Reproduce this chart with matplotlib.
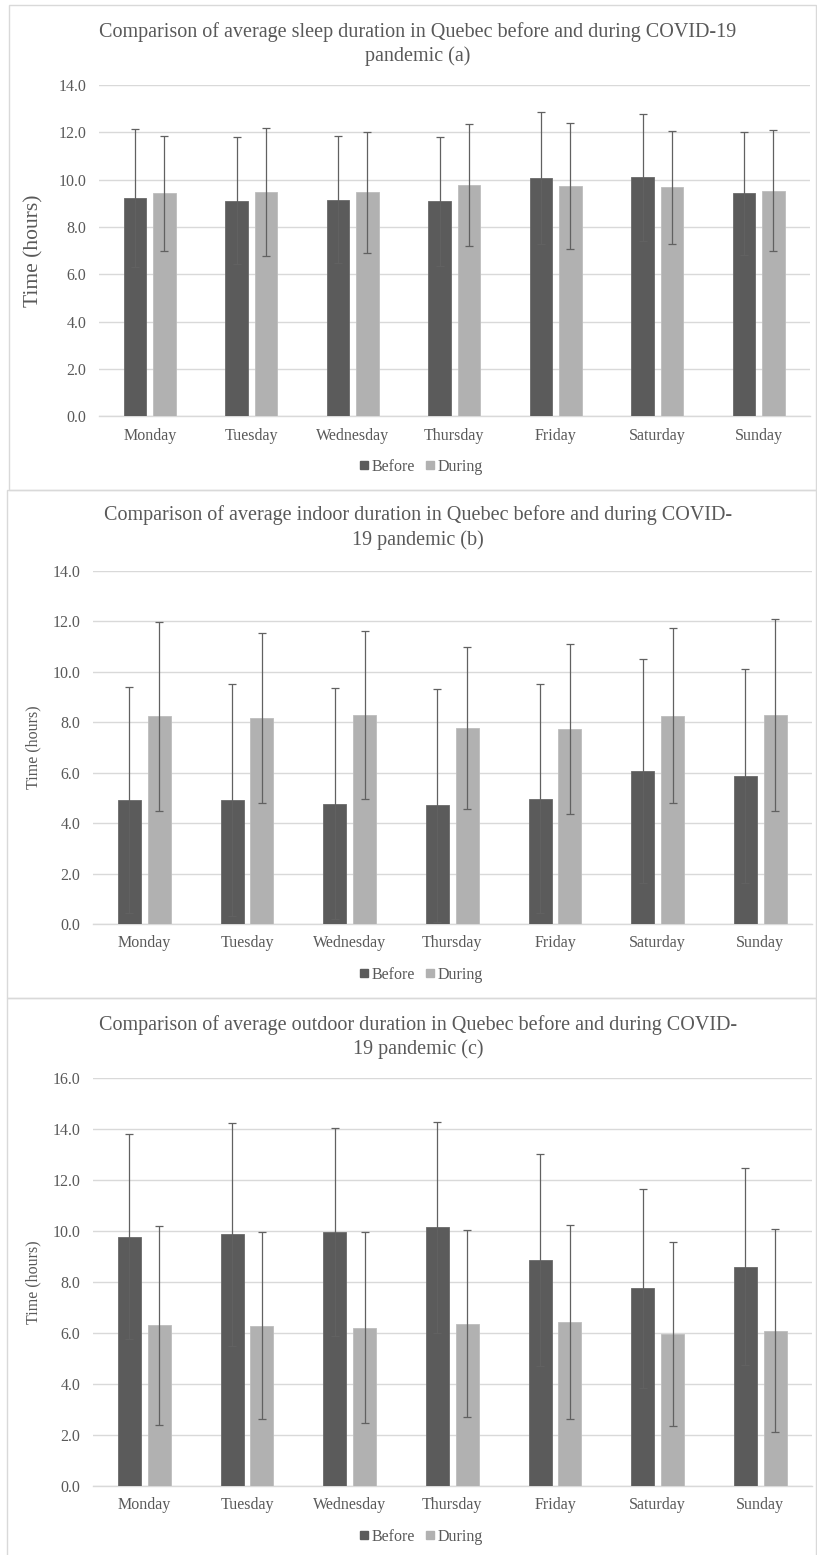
import matplotlib
matplotlib.use("Agg")
import matplotlib.pyplot as plt
from matplotlib.patches import Rectangle
from matplotlib.lines import Line2D
import numpy as np

# ---- data -------------------------------------------------------------
days = ["Monday", "Tuesday", "Wednesday", "Thursday", "Friday", "Saturday", "Sunday"]

sleep_before = [9.22, 9.12, 9.16, 9.08, 10.09, 10.10, 9.43]
sleep_before_sd = [2.91, 2.70, 2.69, 2.73, 2.79, 2.68, 2.60]
sleep_during = [9.43, 9.47, 9.47, 9.78, 9.75, 9.68, 9.54]
sleep_during_sd = [2.42, 2.70, 2.55, 2.58, 2.66, 2.39, 2.56]

indoor_before = [4.92, 4.92, 4.77, 4.70, 4.97, 6.06, 5.87]
indoor_before_sd = [4.47, 4.60, 4.58, 4.61, 4.55, 4.44, 4.24]
indoor_during = [8.23, 8.16, 8.27, 7.77, 7.73, 8.25, 8.28]
indoor_during_sd = [3.74, 3.36, 3.33, 3.21, 3.37, 3.46, 3.80]

outdoor_before = [9.78, 9.87, 9.97, 10.14, 8.85, 7.75, 8.60]
outdoor_before_sd = [4.01, 4.37, 4.07, 4.15, 4.16, 3.90, 3.87]
outdoor_during = [6.30, 6.29, 6.21, 6.37, 6.44, 5.97, 6.09]
outdoor_during_sd = [3.91, 3.66, 3.74, 3.67, 3.81, 3.61, 3.99]

series_labels = ["Before", "During"]

titles = [
    "Comparison of average sleep duration in Quebec before and during COVID-19\npandemic (a)",
    "Comparison of average indoor duration in Quebec before and during COVID-\n19 pandemic (b)",
    "Comparison of average outdoor duration in Quebec before and during COVID-\n19 pandemic (c)",
]
y_maxes = [14, 14, 16]

# ---- styling ----------------------------------------------------------
W, H = 817, 1555
DPI = 100
TEXT = "#595959"
C_BEFORE = "#5b5b5b"
C_DURING = "#b1b1b1"
GRID = "#d9d9d9"
ERR = "#616161"

plt.rcParams["font.family"] = ["Liberation Serif", "DejaVu Serif"]

fig = plt.figure(figsize=(W / DPI, H / DPI), dpi=DPI)
fig.patch.set_facecolor("white")


def fx(px):
    return px / W


def fy(py):
    return 1 - py / H


def add_frame(x0, y0, x1, y1):
    fig.patches.append(Rectangle((fx(x0), fy(y1)), fx(x1 - x0), (y1 - y0) / H,
                                 transform=fig.transFigure, fill=False,
                                 edgecolor="#d9d9d9", linewidth=1.0))


# panel layout in pixels: frame, plot area, title centre lines, legend y,
# label offset and font sizes
panels = [
    dict(frame=(9, 5, 816, 490), plot=(99, 85, 809.5, 416.5),
         title_y=(32, 56), legend_y=467, ylabel_x=43.5, ylabel_fs=15.5),
    dict(frame=(7, 490, 816, 998), plot=(93, 570.7, 811.7, 924),
         title_y=(515, 540), legend_y=975, ylabel_x=41, ylabel_fs=11.5),
    dict(frame=(7, 998, 816, 1560), plot=(93, 1078, 811.7, 1486),
         title_y=(1025, 1049), legend_y=1537, ylabel_x=41, ylabel_fs=11.5),
]

data = [
    (sleep_before, sleep_before_sd, sleep_during, sleep_during_sd),
    (indoor_before, indoor_before_sd, indoor_during, indoor_during_sd),
    (outdoor_before, outdoor_before_sd, outdoor_during, outdoor_during_sd),
]

x = np.arange(len(days))
bw = 0.225
off = 0.145

for p, (b, bsd, d, dsd), title, ymax in zip(panels, data, titles, y_maxes):
    add_frame(*p["frame"])
    x0, y0, x1, y1 = p["plot"]
    ax = fig.add_axes([fx(x0), fy(y1), fx(x1 - x0), (y1 - y0) / H])
    ax.set_facecolor("none")

    ax.bar(x - off, b, bw, color=C_BEFORE, edgecolor="#6a6a6a", linewidth=0.6,
           yerr=bsd, error_kw=dict(ecolor=ERR, elinewidth=0.9, capsize=3.2, capthick=0.9),
           zorder=3)
    ax.bar(x + off, d, bw, color=C_DURING, edgecolor="#bdbdbd", linewidth=0.6,
           yerr=dsd, error_kw=dict(ecolor=ERR, elinewidth=0.9, capsize=3.2, capthick=0.9),
           zorder=3)

    ax.set_xlim(-0.5, len(days) - 0.5)
    ax.set_ylim(0, ymax)
    ax.set_yticks(np.arange(0, ymax + 0.1, 2))
    ax.set_yticklabels([f"{v:.1f}" for v in np.arange(0, ymax + 0.1, 2)])
    ax.set_xticks(x)
    ax.set_xticklabels(days)
    ax.tick_params(axis="both", length=0, labelsize=11.5, colors=TEXT)
    ax.tick_params(axis="y", pad=9)
    ax.tick_params(axis="x", pad=8)
    ax.yaxis.grid(True, color=GRID, linewidth=1.0, zorder=0)
    ax.set_axisbelow(True)
    for s in ["top", "right", "left"]:
        ax.spines[s].set_visible(False)
    ax.spines["bottom"].set_color(GRID)
    ax.spines["bottom"].set_linewidth(1.0)

    ax.set_ylabel("Time (hours)", fontsize=p["ylabel_fs"], color=TEXT)
    ax.yaxis.set_label_coords((p["ylabel_x"] - x0) / (x1 - x0), 0.5)

    # two-line title
    l1, l2 = title.split("\n")
    fig.text(fx(418), fy(p["title_y"][0]), l1, ha="center", va="center",
             fontsize=14.5, color=TEXT)
    fig.text(fx(418), fy(p["title_y"][1]), l2, ha="center", va="center",
             fontsize=14.5, color=TEXT)

    handles = [Line2D([], [], linestyle="none", marker="s", markersize=6,
                      markerfacecolor=c, markeredgecolor=c)
               for c in (C_BEFORE, C_DURING)]
    leg = fig.legend(handles, series_labels, loc="center",
                     bbox_to_anchor=(fx(421), fy(p["legend_y"])), ncol=2,
                     frameon=False, fontsize=11.5, handlelength=0.6,
                     handletextpad=0.2, columnspacing=0.6, borderaxespad=0)
    for t in leg.get_texts():
        t.set_color(TEXT)

fig.savefig("out.png", dpi=DPI, facecolor="white")
